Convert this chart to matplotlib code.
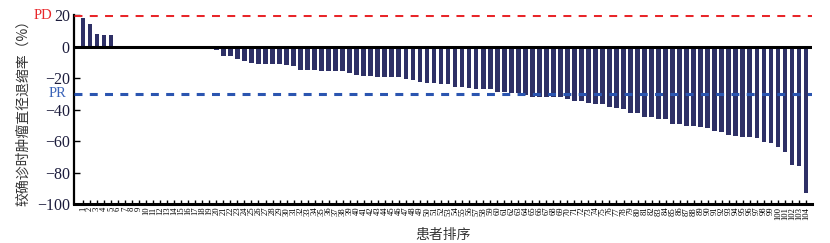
import numpy as np
import matplotlib
matplotlib.use("Agg")
import matplotlib.pyplot as plt
import matplotlib.transforms as mtransforms

plt.rcParams['font.family'] = ['Liberation Serif', 'Noto Sans CJK SC', 'DejaVu Sans']

# percent change of tumour diameter per patient (sorted)
patients = list(range(1, 105))
change = [17.9, 14.3, 8.0, 7.5, 7.5,
          0, 0, 0, 0, 0, 0, 0, 0, 0, 0, 0, 0, 0, 0,
          -2.0, -6.0, -6.0, -8.1, -9.0, -10.3, -11.0, -11.0, -11.1, -11.4, -11.8,
          -12.2, -14.9, -14.9, -15.2, -15.7, -15.7, -15.7, -15.7, -17.0, -18.1,
          -18.7, -18.7, -19.1, -19.1, -19.1, -19.1, -20.6, -21.2, -22.5, -23.0,
          -23.0, -23.8, -23.8, -25.5, -25.5, -26.6, -26.9, -27.0, -27.0, -28.7,
          -28.9, -29.4, -29.4, -30.8, -32.3, -32.3, -32.3, -32.3, -32.3, -33.1,
          -34.4, -34.8, -35.7, -36.7, -36.7, -38.6, -38.8, -39.9, -42.0, -42.4,
          -44.6, -44.6, -46.0, -46.2, -49.2, -49.2, -50.5, -50.5, -51.3, -51.9,
          -53.8, -54.2, -56.2, -56.8, -57.2, -57.2, -58.3, -60.8, -61.0, -63.6,
          -66.8, -75.0, -75.9, -93.2]
pd_line = 20
pr_line = -30
yticks = [20, 0, -20, -40, -60, -80, -100]

fig = plt.figure(figsize=(8.3, 2.43), dpi=100)
ax = fig.add_axes([74/830, 1 - 204/243, 738/830, (204 - 15)/243])

ax.bar(patients, change, width=0.68, color='#2e3066', zorder=2)
ax.axhline(0, color='black', lw=2.2, zorder=3)
ax.axhline(pd_line, color='#e8262a', lw=2.2, linestyle=(0, (2.6, 2.4)), zorder=4)
ax.axhline(pr_line, color='#2b55b0', lw=2.2, linestyle=(0, (2.6, 2.4)), zorder=4)

ax.set_xlim(-0.28, 104.85)
ax.set_ylim(-100, 20)
ax.set_yticks(yticks)
ax.set_yticklabels(['\u2212' + str(-v) if v < 0 else str(v) for v in yticks],
                   fontsize=11.5, color='#1c1c3c')
ax.set_xticks(patients)
ax.set_xticklabels([str(p) for p in patients], rotation=90, fontsize=6.2)
ax.tick_params(axis='x', direction='in', length=3, width=1, pad=2)
ax.tick_params(axis='y', direction='in', length=4, width=1, pad=3)

for s in ['top', 'right']:
    ax.spines[s].set_visible(False)
ax.spines['left'].set_linewidth(1.6)
ax.spines['bottom'].set_linewidth(2.2)

trans = mtransforms.blended_transform_factory(ax.transAxes, ax.transData)
ax.text(-0.030, pd_line, 'PD', transform=trans, ha='right', va='center',
        color='#e8262a', fontsize=10.5)
ax.text(-0.010, pr_line, 'PR', transform=trans, ha='right', va='center',
        color='#3a63b8', fontsize=10.5)

ax.set_ylabel('较确诊时肿瘤直径退缩率（%）', fontsize=10, color='#333333',
              family=['Noto Sans CJK SC', 'DejaVu Sans'], labelpad=5)
ax.set_xlabel('患者排序', fontsize=10, color='#333333',
              family=['Noto Sans CJK SC', 'DejaVu Sans'], labelpad=6)

fig.savefig('out.png', dpi=100)
plt.close(fig)
